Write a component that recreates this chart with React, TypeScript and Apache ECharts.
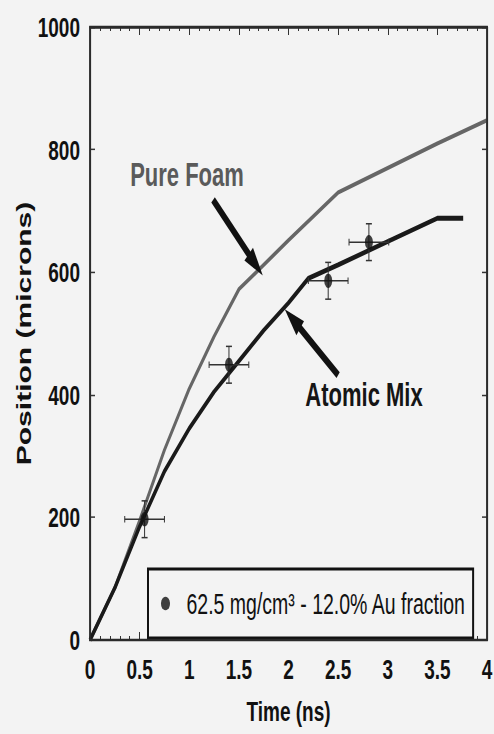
import React, { useEffect, useRef } from "react";
import * as echarts from "echarts";

// ---- data ----
const pureFoamTime = [0, 0.25, 0.5, 0.75, 1.0, 1.25, 1.5, 2.0, 2.5, 3.0, 3.5, 4.0];
const pureFoamPos = [0, 85, 195, 310, 410, 495, 572, 652, 730, 770, 810, 848];

const atomicTime = [0, 0.25, 0.5, 0.75, 1.0, 1.25, 1.5, 1.75, 2.0, 2.2, 2.5, 3.0, 3.5, 3.76];
const atomicPos = [0, 85, 185, 275, 345, 405, 455, 505, 550, 590, 612, 650, 688, 688];

const measTime = [0.55, 1.4, 2.4, 2.81];
const measPos = [197, 449, 586, 649];
const measTimeErr = [0.2, 0.2, 0.2, 0.2];
const measPosErr = [30, 30, 30, 30];

const measName = "62.5 mg/cm³ - 12.0% Au fraction";
const xName = "Time (ns)";
const yName = "Position (microns)";

// arrow annotations (data coordinates): [fromTime, fromPos, toTime, toPos]
const pureFoamArrow = [1.24, 718, 1.67, 612];
const atomicArrow = [2.5, 432, 2.04, 524];

// ---- layout ----
const W = 494;
const H_SCREEN = 734;
const H = 489;
const K = H_SCREEN / H;
const FONT = '"Liberation Sans", Arial, Helvetica, sans-serif';
const BG = "#f3f3f3";
const INK = "#333";
const GRID_LEFT = 90;
const GRID_RIGHT = 7;
const GRID_TOP = 27 / K;
const GRID_BOTTOM = (H_SCREEN - 640) / K;

export default function App() {
  const ref = useRef<HTMLDivElement | null>(null);

  useEffect(() => {
    if (!ref.current) return;
    const chart = echarts.init(ref.current, null, { renderer: "svg" });

    const pf = pureFoamTime.map((t, i) => [t, pureFoamPos[i]]);
    const am = atomicTime.map((t, i) => [t, atomicPos[i]]);
    const meas = measTime.map((t, i) => [t, measPos[i]]);
    const errs = measTime.map((t, i) => [t, measPos[i], measTimeErr[i], measPosErr[i]]);

    const axisLabel = {
      color: "#111",
      fontWeight: "bold",
      fontSize: 19,
      fontFamily: FONT,
      formatter: (v: number) => String(v),
    };
    const shownLine = { show: true, onZero: false, lineStyle: { color: INK, width: 1.2 } };

    const xMajor = (position: string) => ({
      type: "value",
      min: 0,
      max: 4,
      interval: 0.5,
      position,
      splitLine: { show: false },
      axisLine: shownLine,
      axisTick: { show: true, inside: true, length: 5.3, lineStyle: { color: INK, width: 1 } },
    });
    const xMinor = (position: string) => ({
      type: "value",
      min: 0,
      max: 4,
      interval: 0.1,
      position,
      splitLine: { show: false },
      axisLine: { show: false, onZero: false },
      axisLabel: { show: false },
      axisTick: { show: true, inside: true, length: 2.7, lineStyle: { color: INK, width: 1 } },
    });
    const yAx = (position: string) => ({
      type: "value",
      min: 0,
      max: 1000,
      interval: 200,
      position,
      splitLine: { show: false },
      axisLine: shownLine,
      axisTick: { show: true, inside: true, length: 5, lineStyle: { color: INK, width: 1 } },
    });

    const option = {
      animation: false,
      backgroundColor: BG,
      textStyle: { fontFamily: FONT },
      grid: {
        left: GRID_LEFT,
        right: GRID_RIGHT,
        top: GRID_TOP,
        bottom: GRID_BOTTOM,
        outerBoundsMode: "none",
        show: true,
        borderColor: INK,
        borderWidth: 1.2,
      },
      xAxis: [
        {
          ...xMajor("bottom"),
          name: xName,
          nameLocation: "middle",
          nameGap: 38,
          nameMoveOverlap: false,
          nameTextStyle: { color: "#111", fontWeight: "bold", fontSize: 19, fontFamily: FONT },
          axisLabel: { ...axisLabel, margin: 10 },
        },
        { ...xMajor("top"), axisLabel: { show: false } },
        xMinor("bottom"),
        xMinor("top"),
      ],
      yAxis: [
        {
          ...yAx("left"),
          name: yName,
          nameLocation: "middle",
          nameGap: 56,
          nameMoveOverlap: false,
          nameTextStyle: { color: "#111", fontWeight: "bold", fontSize: 20, fontFamily: FONT },
          axisLabel: { ...axisLabel, margin: 10 },
        },
        { ...yAx("right"), axisLabel: { show: false } },
      ],
      legend: {
        data: [{ name: measName, icon: "circle" }],
        left: 148,
        top: 569 / K,
        itemWidth: 32,
        itemHeight: 9,
        padding: [13, 7, 13, 13],
        borderColor: "#111",
        borderWidth: 2,
        borderRadius: 0,
        backgroundColor: BG,
        selectedMode: false,
        textStyle: { color: "#111", fontSize: 19.5, fontFamily: FONT },
      },
      series: [
        {
          name: "Pure Foam",
          type: "line",
          data: pf,
          showSymbol: false,
          lineStyle: { color: "#666", width: 2.8 },
          z: 2,
        },
        {
          name: "Atomic Mix",
          type: "line",
          data: am,
          showSymbol: false,
          lineStyle: { color: "#1a1a1a", width: 3.2 },
          z: 3,
          markLine: {
            silent: true,
            symbol: ["none", "triangle"],
            symbolSize: [12, 20],
            label: { show: false },
            lineStyle: { color: "#111", width: 5, type: "solid" },
            data: [
              [
                { coord: [pureFoamArrow[0], pureFoamArrow[1]] },
                { coord: [pureFoamArrow[2], pureFoamArrow[3]] },
              ],
              [
                { coord: [atomicArrow[0], atomicArrow[1]] },
                { coord: [atomicArrow[2], atomicArrow[3]] },
              ],
            ],
          },
        },
        {
          name: "errors",
          type: "custom",
          data: errs,
          encode: { x: 0, y: 1 },
          z: 4,
          renderItem: (params: any, api: any) => {
            const x = api.value(0);
            const y = api.value(1);
            const ex = api.value(2);
            const ey = api.value(3);
            const l = api.coord([x - ex, y]);
            const r = api.coord([x + ex, y]);
            const t = api.coord([x, y + ey]);
            const b = api.coord([x, y - ey]);
            const st = { stroke: INK, lineWidth: 1 };
            const hc = 2.2;
            const wc = 3;
            return {
              type: "group",
              children: [
                { type: "line", shape: { x1: l[0], y1: l[1], x2: r[0], y2: r[1] }, style: st },
                { type: "line", shape: { x1: t[0], y1: t[1], x2: b[0], y2: b[1] }, style: st },
                { type: "line", shape: { x1: l[0], y1: l[1] - hc, x2: l[0], y2: l[1] + hc }, style: st },
                { type: "line", shape: { x1: r[0], y1: r[1] - hc, x2: r[0], y2: r[1] + hc }, style: st },
                { type: "line", shape: { x1: t[0] - wc, y1: t[1], x2: t[0] + wc, y2: t[1] }, style: st },
                { type: "line", shape: { x1: b[0] - wc, y1: b[1], x2: b[0] + wc, y2: b[1] }, style: st },
              ],
            };
          },
        },
        {
          name: measName,
          type: "scatter",
          data: meas,
          symbol: "circle",
          symbolSize: [8, 9.5],
          itemStyle: { color: "#111" },
          z: 5,
        },
      ],
      graphic: [
        {
          type: "rect",
          silent: true,
          shape: {
            x: GRID_LEFT,
            y: GRID_TOP,
            width: W - GRID_LEFT - GRID_RIGHT,
            height: H - GRID_TOP - GRID_BOTTOM,
          },
          style: { fill: "none", stroke: "#2a2a2a", lineWidth: 1.6 },
          z: 100,
        },
        {
          type: "text",
          x: 187,
          y: 175 / K,
          style: {
            text: "Pure Foam",
            align: "center",
            verticalAlign: "middle",
            font: `bold 22px ${FONT}`,
            fill: "#5a5a5a",
          },
          z: 10,
        },
        {
          type: "text",
          x: 364,
          y: 395 / K,
          style: {
            text: "Atomic Mix",
            align: "center",
            verticalAlign: "middle",
            font: `bold 22px ${FONT}`,
            fill: "#151515",
          },
          z: 10,
        },
      ],
    };

    chart.setOption(option as any);
    return () => chart.dispose();
  }, []);

  return (
    <div
      style={{
        position: "fixed",
        left: 0,
        top: 0,
        width: W,
        height: H_SCREEN,
        overflow: "hidden",
        background: BG,
      }}
    >
      <div
        ref={ref}
        style={{
          width: W,
          height: H,
          transform: `scale(1, ${K})`,
          transformOrigin: "0 0",
        }}
      />
    </div>
  );
}
